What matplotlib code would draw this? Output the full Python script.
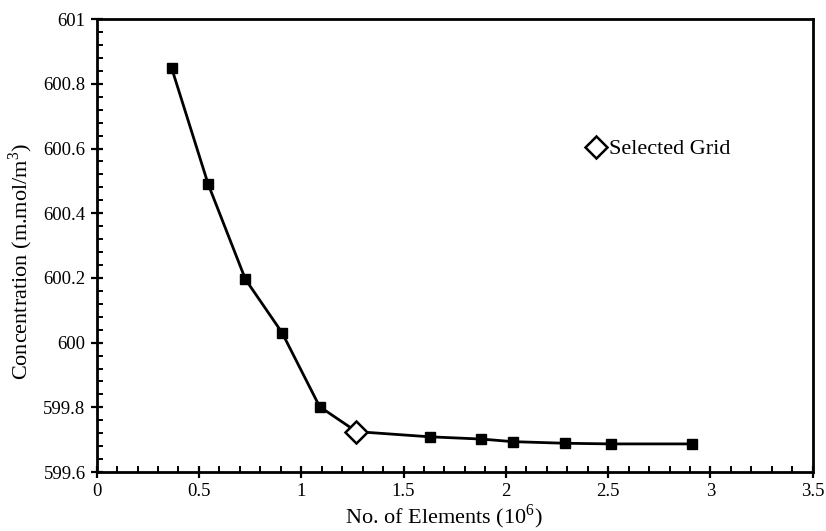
import matplotlib.pyplot as plt
from matplotlib.ticker import MultipleLocator

# grid independence data (elements in 10^6, concentration)
elements = [0.366, 0.545, 0.727, 0.906, 1.090, 1.270, 1.627, 1.880, 2.034, 2.290, 2.515, 2.908]
concentration = [600.850, 600.490, 600.196, 600.031, 599.802, 599.725, 599.709, 599.702,
                 599.694, 599.689, 599.687, 599.687]
selected_idx = 5

x_ticks = [0, 0.5, 1, 1.5, 2, 2.5, 3, 3.5]
x_ticklabels = ['0', '0.5', '1', '1.5', '2', '2.5', '3', '3.5']
y_ticks = [599.6, 599.8, 600, 600.2, 600.4, 600.6, 600.8, 601]
y_ticklabels = ['599.6', '599.8', '600', '600.2', '600.4', '600.6', '600.8', '601']

plt.rcParams['font.family'] = ['Liberation Serif', 'DejaVu Serif']
plt.rcParams['mathtext.fontset'] = 'custom'
plt.rcParams['mathtext.rm'] = 'Liberation Serif'

fig = plt.figure(figsize=(8.26, 5.31), dpi=100)
ax = fig.add_axes([0.117, 0.111, 0.867, 0.853])

ax.plot(elements, concentration, color='black', lw=2, marker='s', markersize=7.5,
        markerfacecolor='black', markeredgecolor='black', zorder=2)
ax.plot(elements[selected_idx], concentration[selected_idx], linestyle='none', marker='D',
        markersize=11, markerfacecolor='white', markeredgecolor='black', markeredgewidth=1.8,
        zorder=3, label='Selected Grid')

ax.set_xlim(0, 3.5)
ax.set_ylim(599.6, 601)
ax.xaxis.set_minor_locator(MultipleLocator(0.1))
ax.yaxis.set_minor_locator(MultipleLocator(0.04))
ax.set_xticks(x_ticks)
ax.set_xticklabels(x_ticklabels)
ax.set_yticks(y_ticks)
ax.set_yticklabels(y_ticklabels)

ax.tick_params(which='major', direction='inout', length=8, width=1.6, labelsize=13.5,
               colors='black', pad=4)
ax.tick_params(which='minor', direction='in', length=4, width=1.4)
for s in ax.spines.values():
    s.set_linewidth(2)

ax.set_xlabel('No. of Elements (10$^{6}$)', fontsize=16)
ax.set_ylabel('Concentration (m.mol/m$^{3}$)', fontsize=16)
ax.xaxis.set_label_coords(0.485, -0.066)
ax.yaxis.set_label_coords(-0.086, 0.466)

ax.legend(loc='upper left', bbox_to_anchor=(0.66, 0.77), frameon=False, fontsize=16,
          handletextpad=0.1, borderpad=0.2, handlelength=1.0)

fig.savefig('out.png', dpi=100)
